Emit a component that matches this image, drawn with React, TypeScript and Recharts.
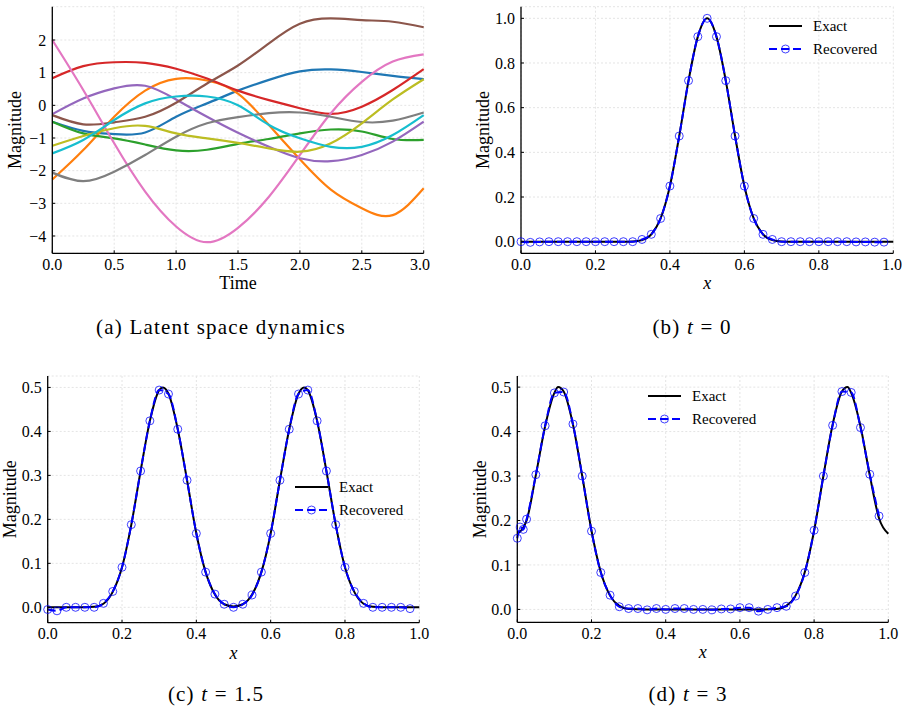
import React from 'react';
import { LineChart, Line, XAxis, YAxis, CartesianGrid, Legend } from 'recharts';

const FONT = '"Liberation Serif", "Times New Roman", serif';

// (a) latent trajectories, sampled every 0.25 in time
const TIME = [0, 0.25, 0.5, 0.75, 1.0, 1.25, 1.5, 1.75, 2.0, 2.25, 2.5, 2.75, 3.0];
const LATENT_COLORS = ['#1f77b4', '#ff7f0e', '#2ca02c', '#d62728', '#9467bd', '#8c564b', '#e377c2', '#7f7f7f', '#bcbd22', '#17becf'];
const z1 = [-0.5, -0.78, -0.88, -0.83, -0.35, 0.06, 0.45, 0.78, 1.04, 1.1, 1.02, 0.9, 0.8];
const z2 = [-2.27, -1.37, -0.35, 0.45, 0.81, 0.76, 0.36, -0.6, -1.65, -2.58, -3.15, -3.36, -2.54];
const z3 = [-0.5, -0.86, -1.01, -1.2, -1.38, -1.36, -1.18, -1.03, -0.86, -0.74, -0.8, -1.03, -1.06];
const z4 = [0.83, 1.2, 1.32, 1.3, 1.12, 0.82, 0.45, 0.16, -0.09, -0.26, -0.04, 0.47, 1.11];
const z5 = [-0.27, 0.21, 0.52, 0.6, 0.18, -0.35, -0.84, -1.27, -1.62, -1.71, -1.52, -1.11, -0.5];
const z6 = [-0.3, -0.58, -0.52, -0.35, 0.08, 0.67, 1.22, 1.9, 2.5, 2.66, 2.61, 2.56, 2.39];
const z7 = [2.0, 0.47, -1.16, -2.64, -3.71, -4.19, -3.75, -2.8, -1.52, -0.24, 0.72, 1.34, 1.56];
const z8 = [-2.06, -2.32, -2.03, -1.52, -0.96, -0.55, -0.36, -0.24, -0.22, -0.35, -0.51, -0.47, -0.22];
const z9 = [-1.24, -0.94, -0.7, -0.63, -0.86, -1.01, -1.15, -1.32, -1.42, -1.16, -0.55, 0.18, 0.8];
const z10 = [-1.47, -1.06, -0.45, 0.06, 0.27, 0.27, 0.0, -0.6, -1.01, -1.27, -1.27, -0.91, -0.3];
const LATENT = [z1, z2, z3, z4, z5, z6, z7, z8, z9, z10];

// recovered sample locations (every 0.025)
const REC_X = [0, 0.025, 0.05, 0.075, 0.1, 0.125, 0.15, 0.175, 0.2, 0.225, 0.25, 0.275, 0.3, 0.325, 0.35, 0.375, 0.4, 0.425, 0.45, 0.475,
  0.5, 0.525, 0.55, 0.575, 0.6, 0.625, 0.65, 0.675, 0.7, 0.725, 0.75, 0.775, 0.8, 0.825, 0.85, 0.875, 0.9, 0.925, 0.95, 0.975];

// (b) t = 0
const exactX0 = [0, 0.1, 0.2, 0.275, 0.3, 0.325, 0.35, 0.375, 0.4, 0.425, 0.45, 0.475, 0.5, 0.525, 0.55, 0.575, 0.6, 0.625, 0.65, 0.675, 0.7, 0.725, 0.8, 0.9, 1.0];
const exactY0 = [0, 0, 0, 0, 0.001, 0.007, 0.033, 0.104, 0.249, 0.473, 0.721, 0.918, 1.0, 0.918, 0.721, 0.473, 0.249, 0.104, 0.033, 0.007, 0.001, 0, 0, 0, 0];
const recY0 = [0, -0.003, -0.001, 0, 0, 0, 0, 0, 0, 0, 0, 0, 0, 0.01, 0.033, 0.104, 0.249, 0.473, 0.721, 0.918,
  1.0, 0.918, 0.721, 0.473, 0.249, 0.104, 0.033, 0.01, 0, 0, 0, 0, 0, 0, 0, 0, -0.001, -0.001, -0.002, -0.002];

// (c) t = 1.5
const exactX15 = [0, 0.05, 0.1, 0.125, 0.15, 0.175, 0.2, 0.225, 0.25, 0.275, 0.3, 0.31, 0.325, 0.35, 0.375, 0.4, 0.425, 0.45, 0.475,
  0.5, 0.525, 0.55, 0.575, 0.6, 0.625, 0.65, 0.675, 0.69, 0.7, 0.725, 0.75, 0.775, 0.8, 0.825, 0.85, 0.875, 0.9, 0.95, 1.0];
const exactY15 = [0, 0, 0, 0.001, 0.008, 0.035, 0.091, 0.188, 0.31, 0.424, 0.494, 0.5, 0.486, 0.405, 0.289, 0.168, 0.08, 0.029, 0.007,
  0.002, 0.007, 0.029, 0.08, 0.168, 0.289, 0.405, 0.486, 0.5, 0.494, 0.424, 0.31, 0.188, 0.091, 0.035, 0.008, 0.001, 0, 0, 0];
const recY15 = [-0.005, -0.008, 0, 0, 0, 0, 0.009, 0.036, 0.091, 0.188, 0.31, 0.424, 0.494, 0.485, 0.405, 0.289, 0.168, 0.08, 0.03, 0.007,
  0.0, 0.007, 0.028, 0.08, 0.168, 0.289, 0.405, 0.485, 0.494, 0.424, 0.31, 0.188, 0.091, 0.036, 0.009, 0, 0, 0, 0, -0.003];

// (d) t = 3
const exactX3 = [0, 0.025, 0.05, 0.075, 0.1, 0.11, 0.125, 0.15, 0.175, 0.2, 0.225, 0.25, 0.275, 0.3, 0.35, 0.5, 0.65, 0.7,
  0.725, 0.75, 0.775, 0.8, 0.825, 0.85, 0.875, 0.89, 0.9, 0.925, 0.95, 0.975, 1.0];
const exactY3 = [0.17, 0.2, 0.302, 0.412, 0.487, 0.5, 0.49, 0.416, 0.3, 0.177, 0.084, 0.031, 0.008, 0.001, 0, 0, 0, 0.001,
  0.008, 0.031, 0.084, 0.177, 0.3, 0.416, 0.49, 0.5, 0.487, 0.412, 0.302, 0.205, 0.17];
const recX3 = [0, 0.008, 0.016, 0.025, 0.05, 0.075, 0.1, 0.125, 0.15, 0.175, 0.2, 0.225, 0.25, 0.275, 0.3, 0.325, 0.35, 0.375, 0.4, 0.425,
  0.45, 0.475, 0.5, 0.525, 0.55, 0.575, 0.6, 0.625, 0.65, 0.675, 0.7, 0.725, 0.75, 0.775, 0.8, 0.825, 0.85, 0.875, 0.9, 0.925, 0.95, 0.975];
const recY3 = [0.16, 0.185, 0.18, 0.203, 0.303, 0.413, 0.487, 0.489, 0.417, 0.3, 0.176, 0.083, 0.032, 0.006, 0.002, 0.002, -0.001, 0.002, 0.0, 0.002,
  0.002, 0.0, 0.0, -0.001, 0.001, 0.001, 0.004, 0.004, -0.004, 0.0, 0.004, 0.007, 0.03, 0.083, 0.178, 0.3, 0.414, 0.49, 0.488, 0.409, 0.304, 0.21];

const TICKS_A_X = [0, 0.5, 1.0, 1.5, 2.0, 2.5, 3.0];
const TICKS_A_Y = [-4, -3, -2, -1, 0, 1, 2];
const TICKS_UNIT = [0, 0.2, 0.4, 0.6, 0.8, 1.0];
const TICKS_HALF = [0, 0.1, 0.2, 0.3, 0.4, 0.5];

const fmt1 = (v: number) => v.toFixed(1);
const fmtInt = (v: number) => (v < 0 ? '\u2212' + Math.abs(v) : String(v));

const tickStyle = { fontSize: 16, fill: '#000', fontFamily: FONT };
const axisLine = { stroke: '#000', strokeWidth: 1.3 };
const tickLine = { stroke: '#000' };

function LegendBox() {
  return (
    <svg width={130} height={46} style={{ display: 'block', fontFamily: FONT }}>
      <line x1={0} x2={33} y1={11} y2={11} stroke="#000" strokeWidth={2} />
      <text x={44} y={16} fontSize={15} fontFamily={FONT}>Exact</text>
      <line x1={0} x2={33} y1={34} y2={34} stroke="#0000ff" strokeWidth={2} strokeDasharray="8 4" />
      <circle cx={16.5} cy={34} r={4} fill="none" stroke="#0000ff" strokeOpacity={0.75} />
      <text x={44} y={39} fontSize={15} fontFamily={FONT}>Recovered</text>
    </svg>
  );
}

function Caption({ x, y, children }: { x: number; y: number; children: React.ReactNode }) {
  return (
    <div style={{ position: 'absolute', left: x - 200, top: y - 12, width: 400, lineHeight: '24px', textAlign: 'center', fontFamily: FONT, fontSize: 21, letterSpacing: 1.2, color: '#000', whiteSpace: 'nowrap' }}>
      {children}
    </div>
  );
}

function ProfilePanel(props: {
  left: number; top: number; width: number; height: number;
  margin: { top: number; right: number; bottom: number; left: number };
  yWidth: number; yLabelOffset: number; yDomain: number[]; yTicks: number[];
  exactX: number[]; exactY: number[]; recX: number[]; recY: number[];
  legend: { left: number; top: number };
}) {
  const exact = props.exactX.map((x, i) => ({ x, y: props.exactY[i] }));
  const rec = props.recX.map((x, i) => ({ x, y: props.recY[i] }));
  return (
    <div style={{ position: 'absolute', left: props.left, top: props.top, fontFamily: FONT }}>
      <LineChart width={props.width} height={props.height} margin={props.margin} style={{ fontFamily: FONT }}>
        <CartesianGrid stroke="#e4e4e4" strokeDasharray="2 2" />
        <XAxis dataKey="x" type="number" domain={[0, 1]} ticks={TICKS_UNIT} tickFormatter={fmt1}
          tick={tickStyle} axisLine={axisLine} tickLine={tickLine} tickSize={-3} tickMargin={8} height={36}
          label={{ value: 'x', position: 'insideBottom', offset: 0, style: { fontFamily: FONT, fontSize: 18, fontStyle: 'italic', fill: '#000' } }} />
        <YAxis type="number" domain={props.yDomain} ticks={props.yTicks} tickFormatter={fmt1} allowDataOverflow
          tick={tickStyle} axisLine={axisLine} tickLine={tickLine} tickSize={-3} tickMargin={9} width={props.yWidth}
          label={{ value: 'Magnitude', angle: -90, position: 'insideLeft', offset: props.yLabelOffset, style: { textAnchor: 'middle', fontFamily: FONT, fontSize: 18, fill: '#000' } }} />
        <Legend layout="vertical" align="center" verticalAlign="middle"
          wrapperStyle={{ left: props.legend.left, top: props.legend.top, width: 130 }} content={() => <LegendBox />} />
        <Line data={exact} dataKey="y" name="Exact" type="monotone" stroke="#000" strokeWidth={2} dot={false} isAnimationActive={false} />
        <Line data={rec} dataKey="y" name="Recovered" type="monotone" stroke="#0000ff" strokeWidth={2} strokeDasharray="8 4"
          dot={{ r: 4, fill: 'none', stroke: '#0000ff', strokeOpacity: 0.75, strokeWidth: 1, strokeDasharray: '' }} isAnimationActive={false} />
      </LineChart>
    </div>
  );
}

export default function App() {
  const latentRows = TIME.map((t, i) => {
    const row: Record<string, number> = { t };
    LATENT.forEach((s, k) => { row['z' + k] = s[i]; });
    return row;
  });

  return (
    <div style={{ position: 'absolute', left: 0, top: 0, width: 902, height: 710, background: '#fff', overflow: 'hidden', fontFamily: FONT }}>
      <div style={{ position: 'absolute', left: 0, top: 0 }}>
        <LineChart width={430} height={300} data={latentRows} margin={{ top: 6.7, right: 6.3, bottom: 10.7, left: 2 }} style={{ fontFamily: FONT }}>
          <CartesianGrid stroke="#e4e4e4" strokeDasharray="2 2" />
          <XAxis dataKey="t" type="number" domain={[0, 3]} ticks={TICKS_A_X} tickFormatter={fmt1}
            tick={tickStyle} axisLine={axisLine} tickLine={tickLine} tickSize={-3} tickMargin={8} height={36}
            label={{ value: 'Time', position: 'insideBottom', offset: 0, style: { fontFamily: FONT, fontSize: 18, fill: '#000' } }} />
          <YAxis type="number" domain={[-4.53, 3.02]} ticks={TICKS_A_Y} tickFormatter={fmtInt} allowDataOverflow
            tick={tickStyle} axisLine={axisLine} tickLine={tickLine} tickSize={-3} tickMargin={9} width={50.3}
            label={{ value: 'Magnitude', angle: -90, position: 'insideLeft', offset: 12.5, style: { textAnchor: 'middle', fontFamily: FONT, fontSize: 18, fill: '#000' } }} />
          {LATENT.map((_, k) => (
            <Line key={k} dataKey={'z' + k} type="natural" stroke={LATENT_COLORS[k]} strokeWidth={2.2} dot={false} isAnimationActive={false} />
          ))}
        </LineChart>
      </div>

      <ProfilePanel left={450} top={0} width={452} height={300}
        margin={{ top: 6.7, right: 8.7, bottom: 10.7, left: 2 }} yWidth={69} yLabelOffset={31}
        yDomain={[-0.052, 1.052]} yTicks={TICKS_UNIT}
        exactX={exactX0} exactY={exactY0} recX={REC_X} recY={recY0} legend={{ left: 319, top: 15 }} />

      <ProfilePanel left={0} top={370} width={430} height={300}
        margin={{ top: 6, right: 10.7, bottom: 11.3, left: 2 }} yWidth={45.7} yLabelOffset={8}
        yDomain={[-0.035, 0.526]} yTicks={TICKS_HALF}
        exactX={exactX15} exactY={exactY15} recX={REC_X} recY={recY15} legend={{ left: 295, top: 105.7 }} />

      <ProfilePanel left={460} top={370} width={442} height={300}
        margin={{ top: 6, right: 13.7, bottom: 11.7, left: 2 }} yWidth={55.3} yLabelOffset={18}
        yDomain={[-0.029, 0.525]} yTicks={TICKS_HALF}
        exactX={exactX3} exactY={exactY3} recX={recX3} recY={recY3} legend={{ left: 187.7, top: 15 }} />

      <Caption x={221} y={327}>(a) Latent space dynamics</Caption>
      <Caption x={692} y={327}>(b) <i>t</i> = 0</Caption>
      <Caption x={216} y={694}>(c) <i>t</i> = 1.5</Caption>
      <Caption x={688} y={694}>(d) <i>t</i> = 3</Caption>
    </div>
  );
}
